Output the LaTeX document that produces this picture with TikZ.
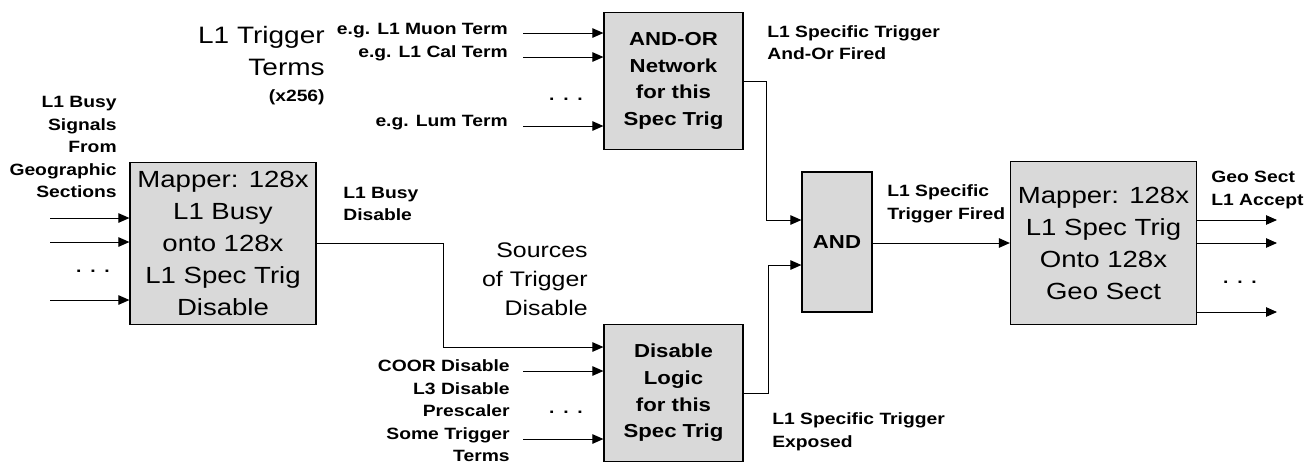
\documentclass[tikz,border=0pt]{standalone}
\usepackage{fontspec}
\setmainfont{Liberation Sans}[FakeStretch=1.18]
\usetikzlibrary{arrows.meta}
\definecolor{boxfill}{RGB}{217,217,217}
\newcommand{\spdots}{.\hspace{5pt}.\hspace{5pt}.}
\tikzset{
  blk/.style={draw, line width=0.7pt, fill=boxfill, inner sep=0pt, align=center},
  mapbox/.style={blk, minimum width=3.72cm, minimum height=3.25cm, font=\fontsize{13.3}{18.2}\selectfont},
  logicbox/.style={blk, minimum width=2.78cm, minimum height=2.74cm, font=\fontsize{10.7}{15.2}\selectfont\bfseries},
  lbl/.style={inner sep=0pt, font=\fontsize{9.3}{12.8}\selectfont\bfseries},
  bigtxt/.style={inner sep=0pt, font=\fontsize{13.5}{18.2}\selectfont},
  sig/.style={line width=0.55pt, -{Triangle[length=2.2mm,width=1.9mm]}}
}

\begin{document}
\begin{tikzpicture}[x=0.02cm, y=-0.02cm]
\useasboundingbox (0,0) rectangle (1315,464);

\node[mapbox] (map1) at (223,243.5) {Mapper: 128x\\L1 Busy\\onto 128x\\L1 Spec Trig\\Disable};
\node[logicbox] (andor) at (673.5,81) {AND-OR\\Network\\for this\\Spec Trig};
\node[logicbox] (dislog) at (673.5,393) {Disable\\Logic\\for this\\Spec Trig};
\node[logicbox, minimum width=1.4cm, minimum height=2.8cm] (and) at (837,242) {AND};
\node[mapbox] (map2) at (1103.5,243) {Mapper: 128x\\L1 Spec Trig\\Onto 128x\\Geo Sect};

% labels
\node[lbl, anchor=east, align=right] (busysig) at (117,147) {L1 Busy\\Signals\\From\\Geographic\\Sections};
\node[bigtxt, anchor=east, align=right] (trigterms) at (325,51) {L1 Trigger\\Terms};
\node[lbl, anchor=east] (x256) at (325,97) {(x256)};
\node[lbl, anchor=east] (muon) at (508,31) {e.g. L1 Muon Term};
\node[lbl, anchor=east] (cal) at (508,53) {e.g. L1 Cal Term};
\node[lbl, anchor=east] (lum) at (508,123) {e.g. Lum Term};
\node[lbl, anchor=west, align=left] (aofired) at (767,42.5) {L1 Specific Trigger\\And-Or Fired};
\node[lbl, anchor=west, align=left] (busydis) at (343,204) {L1 Busy\\Disable};
\node[bigtxt, anchor=east, align=right, font=\fontsize{12}{16.5}\selectfont] (sources) at (588,279) {Sources\\of Trigger\\Disable};
\node[lbl, anchor=east, align=right] (dissrc) at (510,411) {COOR Disable\\L3 Disable\\Prescaler\\Some Trigger\\Terms};
\node[lbl, anchor=west, align=left] (exposed) at (772,432) {L1 Specific Trigger\\Exposed};
\node[lbl, anchor=west, align=left] (fired) at (887,204) {L1 Specific\\Trigger Fired};
\node[lbl, anchor=west, align=left] (geoacc) at (1211,190) {Geo Sect\\L1 Accept};

% dots
\node[lbl] (dots1) at (93,271) {\spdots};
\node[lbl] (dots2) at (566,99) {\spdots};
\node[lbl] (dots3) at (566,412) {\spdots};
\node[lbl] (dots4) at (1240,282) {\spdots};

% signal ends
\foreach \y/\n in {218/a, 242/b, 300/c}
  \coordinate (busy\n) at (50,\y);
\foreach \y/\n in {33/a, 57/b, 126/c, 371/d, 439/e}
  \coordinate (term\n) at (523,\y);
\foreach \y/\n in {220/a, 243/b, 312/c}
  \coordinate (geo\n) at (1277,\y);
\coordinate (bend1) at (443,347);
\coordinate (bend2) at (766,220);
\coordinate (bend3) at (768,265);

\foreach \n in {a,b,c}
  \draw[sig] (busy\n) -- (busy\n -| map1.west);
\foreach \n in {a,b,c}
  \draw[sig] (term\n) -- (term\n -| andor.west);
\foreach \n in {d,e}
  \draw[sig] (term\n) -- (term\n -| dislog.west);
\foreach \n in {a,b,c}
  \draw[sig] (geo\n -| map2.east) -- (geo\n);

\draw[sig] (map1.east) -| (bend1) -- (bend1 -| dislog.west);
\draw[sig] (andor.east) -| (bend2) -- (bend2 -| and.west);
\draw[sig] (dislog.east) -| (bend3) -- (bend3 -| and.west);
\draw[sig] (and.east |- map2.west) -- (map2.west);
\end{tikzpicture}
\end{document}
